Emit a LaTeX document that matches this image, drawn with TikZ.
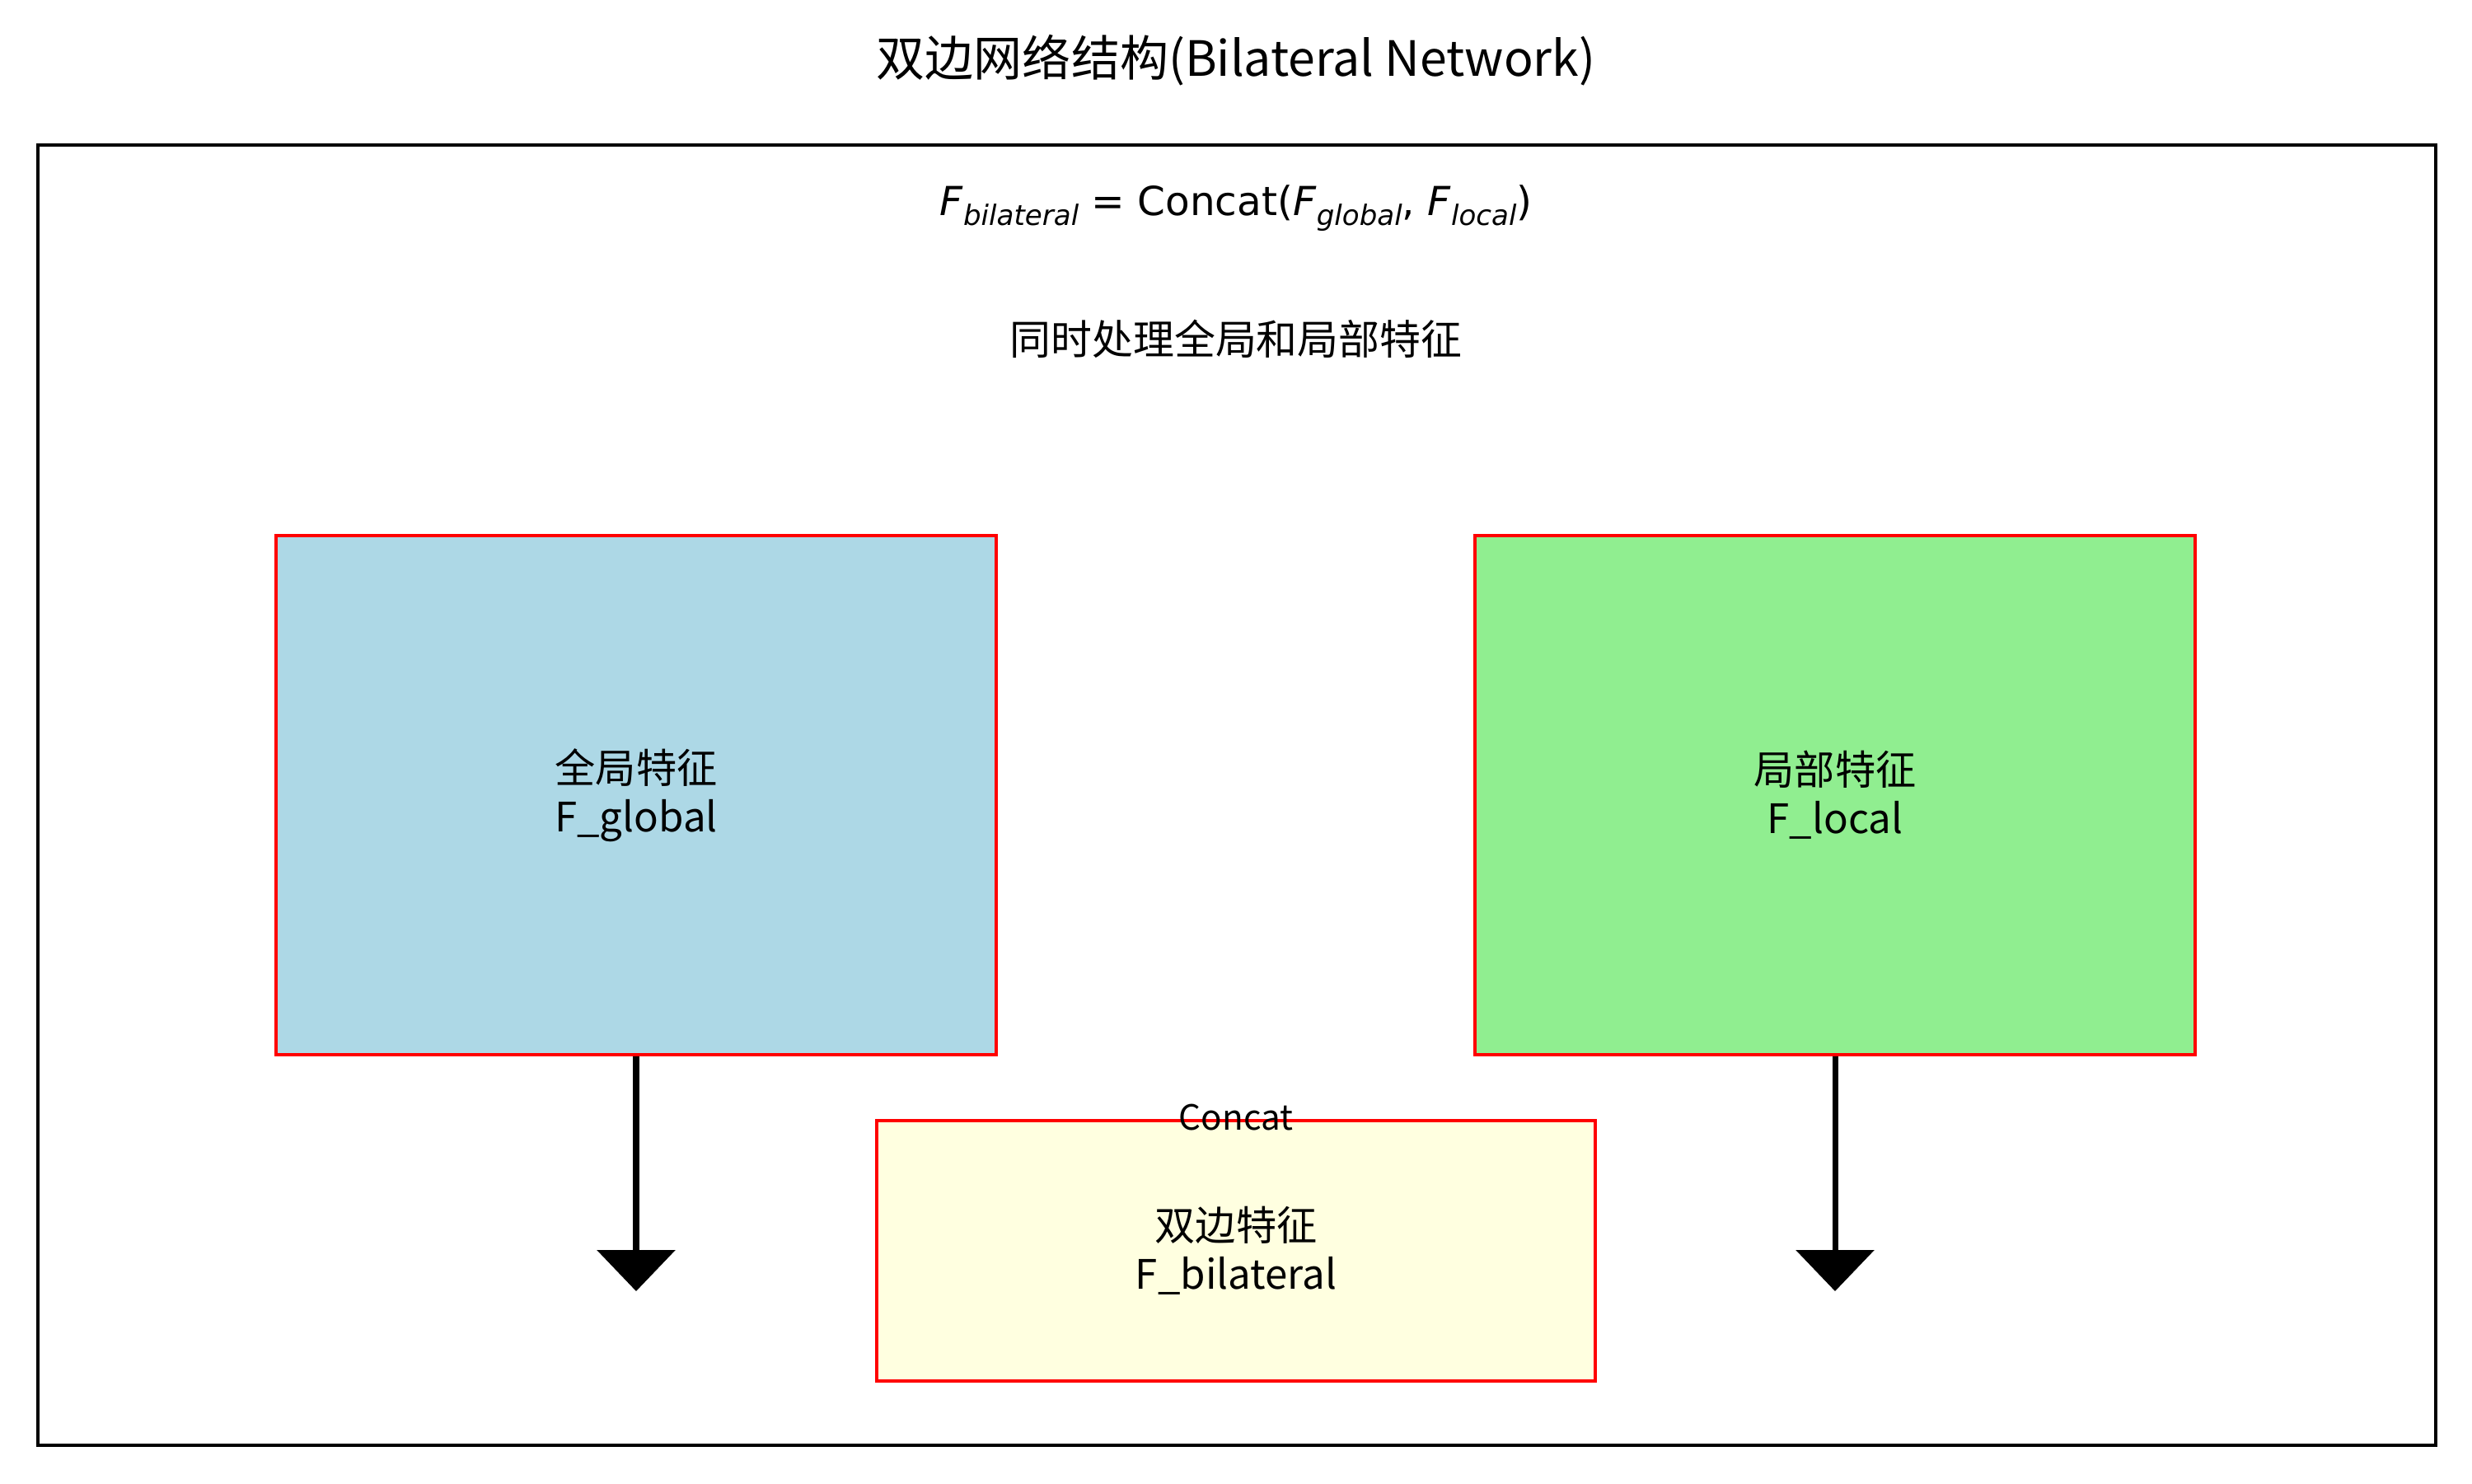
\documentclass[tikz,border=0pt]{standalone}
\usepackage{fontspec}
\setmainfont{Noto Sans CJK SC}
\newfontfamily\formulafont{DejaVu Sans}
\usepackage{xcolor}
\usetikzlibrary{arrows.meta,positioning}
\definecolor{globalblue}{RGB}{173,216,230}
\definecolor{localgreen}{RGB}{144,238,144}
\definecolor{bilatyellow}{RGB}{255,255,224}
\newcommand{\fsub}[1]{\textit{F}\raisebox{-0.45ex}{\fontsize{9.7}{10}\selectfont\itshape #1}}

\begin{document}
\begin{tikzpicture}[
    feat/.style={rectangle, draw=red, line width=1.1pt, fill=#1, minimum width=8.74cm,
                 minimum height=6.3cm, align=center, font=\fontsize{14}{16.8}\selectfont},
    flow/.style={-{Triangle[length=5mm,width=9.4mm]}, line width=2pt}]
\useasboundingbox (0,0) rectangle (30,18);

\node[font=\fontsize{16.8}{20}\selectfont] (title) at (15,17.27) {双边网络结构(Bilateral Network)};
\draw[line width=1pt] (0.46,0.46) rectangle (29.56,16.24);

\node[font=\formulafont\fontsize{13.8}{16}\selectfont] (formula) at (15,15.47)
    {\fsub{bilateral} = Concat(\fsub{global}, \fsub{local})};
\node[font=\fontsize{14.2}{17}\selectfont] (desc) at (15,13.89) {同时处理全局和局部特征};

\node[feat=globalblue] (glob) at (7.72,8.35) {全局特征\\F\_global};
\node[feat=localgreen] (loc) at (22.27,8.35) {局部特征\\F\_local};
\node[feat=bilatyellow, minimum height=3.16cm, minimum width=8.72cm] (bilat) at (15,2.82) {双边特征\\F\_bilateral};
\node[font=\fontsize{12}{14}\selectfont] (concat) at (15,4.44) {Concat};

\coordinate (globend) at (7.72,2.33);
\coordinate (locend) at (22.27,2.33);
\draw[flow] (glob) -- (globend);
\draw[flow] (loc) -- (locend);
\end{tikzpicture}
\end{document}
